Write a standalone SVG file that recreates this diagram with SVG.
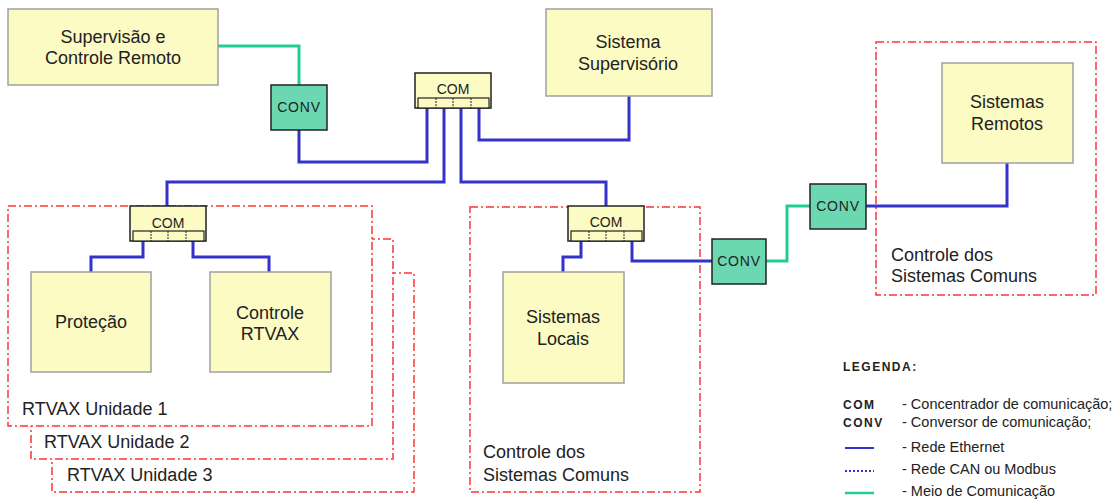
<svg xmlns="http://www.w3.org/2000/svg" width="1113" height="499" viewBox="0 0 1113 499">
<style>
text{font-family:"Liberation Sans",Arial,sans-serif;fill:#222}
.lbl{font-size:18px}
.mid{text-anchor:middle}
.box{fill:#fcfbc4;stroke:#a0a0a0;stroke-width:1.5}
.com{fill:#fcfbc4;stroke:#222;stroke-width:1.5}
.strip{fill:#fcfbc4;stroke:#222;stroke-width:1.2}
.div{stroke:#222;stroke-width:1;stroke-dasharray:2 1}
.comt{font-size:14px}
.conv{fill:#6cd8b2;stroke:#222;stroke-width:1.5}
.frame{fill:#fff;stroke:#ff3333;stroke-width:1.5;stroke-dasharray:8 3 2 3}
.eth{fill:none;stroke:#3333cc;stroke-width:3}
.can{fill:none;stroke:#3333cc;stroke-width:3;stroke-dasharray:2 2}
.med{fill:none;stroke:#22cc99;stroke-width:3}
.leg{font-size:14.5px}
.legb{font-size:12px;font-weight:bold;letter-spacing:1.5px}
</style>

<g id="frame-rtvax3"><rect class="frame" x="52" y="273" width="362" height="219"/><text class="lbl" x="67" y="481">RTVAX Unidade 3</text></g>
<g id="frame-rtvax2"><rect class="frame" x="31" y="239" width="362" height="220"/><text class="lbl" x="44" y="448">RTVAX Unidade 2</text></g>
<g id="frame-rtvax1"><rect class="frame" x="8" y="206" width="364" height="220"/><text class="lbl" x="22" y="415">RTVAX Unidade 1</text></g>
<g id="frame-comuns-locais"><rect class="frame" x="470" y="207" width="230" height="285"/><text class="lbl" x="483" y="458">Controle dos</text><text class="lbl" x="483" y="481">Sistemas Comuns</text></g>
<g id="frame-comuns-remotos"><rect class="frame" x="876" y="42" width="220" height="253"/><text class="lbl" x="891" y="261">Controle dos</text><text class="lbl" x="891" y="282">Sistemas Comuns</text></g>

<g id="connectors">
<path class="med" d="M218,46 H299 V85"/>
<path class="eth" d="M299,130 V162 H427 V108"/>
<path class="eth" d="M444,108 V182 H167 V206"/>
<path class="eth" d="M461,108 V182 H606 V206"/>
<path class="eth" d="M479,108 V140 H629 V96"/>
<path class="eth" d="M143,241 V257 H91 V272"/>
<path class="eth" d="M193,241 V257 H269 V272"/>
<path class="eth" d="M581,241 V257 H563 V272"/>
<path class="eth" d="M632,241 V261 H712"/>
<path class="med" d="M766,261 H787 V206 H810"/>
<path class="eth" d="M866,206 H1007 V163"/>
</g>

<g id="supervisao"><rect class="box" x="8" y="9" width="210" height="76"/><text class="lbl mid" x="113" y="43">Supervisão e</text><text class="lbl mid" x="113" y="64">Controle Remoto</text></g>
<g id="sistema-supervisorio"><rect class="box" x="546" y="9" width="166" height="87"/><text class="lbl mid" x="628" y="48">Sistema</text><text class="lbl mid" x="628" y="70">Supervisório</text></g>
<g id="sistemas-remotos"><rect class="box" x="942" y="63" width="131" height="100"/><text class="lbl mid" x="1007" y="108">Sistemas</text><text class="lbl mid" x="1007" y="130">Remotos</text></g>
<g id="protecao"><rect class="box" x="31" y="272" width="120" height="100"/><text class="lbl mid" x="91" y="328">Proteção</text></g>
<g id="controle-rtvax"><rect class="box" x="210" y="272" width="121" height="100"/><text class="lbl mid" x="270" y="319">Controle</text><text class="lbl mid" x="270" y="340">RTVAX</text></g>
<g id="sistemas-locais"><rect class="box" x="503" y="272" width="121" height="111"/><text class="lbl mid" x="563" y="323">Sistemas</text><text class="lbl mid" x="563" y="345">Locais</text></g>

<g id="com-top"><rect class="com" x="415" y="73" width="76" height="35"/><rect class="strip" x="418" y="98" width="71" height="10"/><path class="div" d="M436,98 V108 M453,98 V108 M471,98 V108"/><text class="comt mid" x="453" y="94">COM</text></g>
<g id="com-rtvax"><rect class="com" x="130" y="206" width="76" height="35"/><rect class="strip" x="133" y="231" width="71" height="10"/><path class="div" d="M151,231 V241 M168,231 V241 M186,231 V241"/><text class="comt mid" x="168" y="228">COM</text></g>
<g id="com-comuns"><rect class="com" x="568" y="206" width="76" height="35"/><rect class="strip" x="571" y="231" width="71" height="10"/><path class="div" d="M589,231 V241 M606,231 V241 M624,231 V241"/><text class="comt mid" x="606" y="227">COM</text></g>

<g id="conv-top"><rect class="conv" x="271" y="85" width="56" height="45"/><text class="comt mid" x="299" y="112" letter-spacing="0.8">CONV</text></g>
<g id="conv-mid"><rect class="conv" x="712" y="239" width="54" height="45"/><text class="comt mid" x="739" y="266" letter-spacing="0.8">CONV</text></g>
<g id="conv-right"><rect class="conv" x="810" y="184" width="56" height="45"/><text class="comt mid" x="838" y="211" letter-spacing="0.8">CONV</text></g>

<g id="legenda">
<text class="legb" x="843" y="371">LEGENDA:</text>
<text class="legb" x="843" y="409">COM</text>
<text class="legb" x="843" y="427">CONV</text>
<text class="leg" x="902" y="409">- Concentrador de comunicação;</text>
<text class="leg" x="902" y="427">- Conversor de comunicação;</text>
<path class="eth" d="M845,448 H874" style="stroke-width:2"/>
<text class="leg" x="902" y="452">- Rede Ethernet</text>
<path class="can" d="M845,471 H874" style="stroke-width:2"/>
<text class="leg" x="902" y="474">- Rede CAN ou Modbus</text>
<path class="med" d="M845,493 H874" style="stroke-width:2.5"/>
<text class="leg" x="902" y="496">- Meio de Comunicação</text>
</g>
</svg>
